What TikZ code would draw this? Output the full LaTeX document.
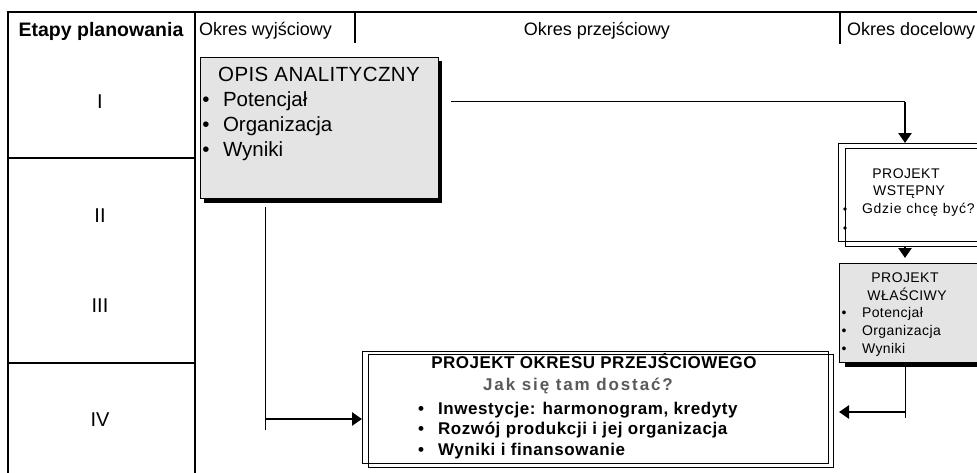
\documentclass[tikz,border=0pt]{standalone}
\usepackage{fontspec}
\setmainfont{Liberation Sans}
\usetikzlibrary{arrows.meta,fit}
\definecolor{boxgray}{HTML}{E4E4E4}
\definecolor{txtgray}{HTML}{5A5A5A}
\begin{document}
\begin{tikzpicture}[x=1pt,y=-1pt,
  frameline/.style={line width=1.6pt},
  gbox/.style={draw=black,line width=0.9pt,fill=boxgray,inner sep=0pt,outer sep=0pt},
  wbox/.style={draw=black,line width=0.9pt,inner sep=0pt,outer sep=0pt},
  shad/.style={fill=black,inner sep=0pt,outer sep=0pt},
  thinc/.style={line width=1pt},
  thickc/.style={line width=2.6pt,-{Triangle[length=10pt,width=13pt]}},
  txt/.style={inner sep=0pt,outer sep=0pt},
  hdr/.style={txt,font=\fontsize{18}{20}\selectfont},
  roman/.style={txt,font=\fontsize{20}{22}\selectfont},
  bigt/.style={txt,font=\fontsize{20.5}{23}\selectfont},
  smt/.style={txt,font=\fontsize{14}{16}\selectfont\addfontfeature{LetterSpace=3}},
  okt/.style={txt,font=\fontsize{17}{19}\selectfont\bfseries\addfontfeature{LetterSpace=3.5}},
  dot/.style={circle,fill=black,inner sep=0pt,minimum size=3.6pt}
]
\useasboundingbox (0,0) rectangle (977,472);
\fill[white] (0,0) rectangle (977,472);

% table frame
\coordinate (tl) at (8,12);
\coordinate (tr) at (990,12);
\coordinate (bl) at (8,480);
\coordinate (c1t) at (195,12);
\coordinate (c1b) at (195,480);
\draw[frameline] (tr) -- (tl) -- (bl);
\draw[frameline] (c1t) -- (c1b);
\draw[frameline] (8,158) -- (195,158);
\draw[frameline] (8,363) -- (195,363);
\draw[line width=1.2pt] (355,12) -- (355,43);
\draw[line width=1.6pt] (840,12) -- (840,44);

% header texts
\node[txt,font=\fontsize{19.5}{22}\selectfont\bfseries,anchor=base] (hetap) at (101,36) {Etapy planowania};
\node[hdr,anchor=base west] (hwyj) at (199,35) {Okres wyjściowy};
\node[hdr,anchor=base] (hprz) at (597,35) {Okres przejściowy};
\node[hdr,anchor=base west] (hdoc) at (847,35) {Okres docelowy};

% roman numerals
\node[roman] (r1) at (100,102) {I};
\node[roman] (r2) at (100,216) {II};
\node[roman] (r3) at (100,306) {III};
\node[roman] (r4) at (100,420) {IV};

% OPIS ANALITYCZNY
\node[shad,fit={(204,61) (442,203)}] (opiss) {};
\node[gbox,fit={(200,57) (438,198)}] (opis) {};
\node[bigt,anchor=base,font=\fontsize{20.5}{23}\selectfont\addfontfeature{LetterSpace=2}] (opt) at (319,81) {OPIS ANALITYCZNY};
\node[bigt,anchor=base] (ob1) at (206,106) {•};
\node[bigt,anchor=base west] (ot1) at (223,106) {Potencjał};
\node[bigt,anchor=base] (ob2) at (206,131) {•};
\node[bigt,anchor=base west] (ot2) at (223,131) {Organizacja};
\node[bigt,anchor=base] (ob3) at (206,156) {•};
\node[bigt,anchor=base west] (ot3) at (223,156) {Wyniki};

% PROJEKT WSTEPNY (double frame)
\node[wbox,fit={(838,143) (995,241)}] (wsto) {};
\node[wbox,fit={(845,148) (1000,246)}] (wsti) {};
\node[smt,anchor=base] (wt1) at (906,178) {PROJEKT};
\node[smt,anchor=base] (wt2) at (909,195) {WSTĘPNY};
\node[smt,anchor=base west,font=\fontsize{14}{16}\selectfont\addfontfeature{LetterSpace=5.5}] (wt3) at (862,213) {Gdzie chcę być?};
\node[dot] (wd1) at (845,209) {};
\node[dot] (wd2) at (845,228) {};

% PROJEKT WLASCIWY
\node[shad,fit={(845,362) (1000,367)}] (wlas) {};
\node[gbox,fit={(839,263) (995,362)}] (wla) {};
\node[smt,anchor=base] (lt1) at (905,282) {PROJEKT};
\node[smt,anchor=base] (lt2) at (907,300) {WŁAŚCIWY};
\node[smt,anchor=base] (lb1) at (844,317) {•};
\node[smt,anchor=base west] (lt3) at (862,317) {Potencjał};
\node[smt,anchor=base] (lb2) at (844,335) {•};
\node[smt,anchor=base west] (lt4) at (862,335) {Organizacja};
\node[smt,anchor=base] (lb3) at (844,353) {•};
\node[smt,anchor=base west] (lt5) at (862,353) {Wyniki};

% PROJEKT OKRESU PRZEJSCIOWEGO (double frame)
\node[wbox,fill=white,fit={(362,351) (828,463)}] (okro) {};
\node[wbox,fit={(368,354) (833,467)}] (okri) {};
\node[okt,anchor=base,font=\fontsize{17}{19}\selectfont\bfseries\addfontfeature{LetterSpace=3}] (kt1) at (594,368) {PROJEKT OKRESU PRZEJŚCIOWEGO};
\node[okt,anchor=base,text=txtgray,font=\fontsize{17}{19}\selectfont\bfseries\addfontfeature{LetterSpace=11}] (kt2) at (578,390) {Jak się tam dostać?};
\node[okt,anchor=base] (kb1) at (421,414) {•};
\node[okt,anchor=base west] (kt3) at (438,414) {Inwestycje: harmonogram, kredyty};
\node[okt,anchor=base] (kb2) at (421,434.5) {•};
\node[okt,anchor=base west] (kt4) at (438,434.5) {Rozwój produkcji i jej organizacja};
\node[okt,anchor=base] (kb3) at (421,455) {•};
\node[okt,anchor=base west] (kt5) at (438,455) {Wyniki i finansowanie};

% connectors
\coordinate (k0) at (451,101);
\coordinate (k1) at (905,101);
\draw[thinc] (k0) -- (k1);
\draw[thickc] ([yshift=-1pt]k1) -- (wsto.north -| k1);
\draw[thickc,shorten >=5pt] (wsti.south -| k1) -- (wla.north -| k1);
\coordinate (k2) at (905,418);
\coordinate (k3) at (905,412);
\draw[thinc] (wlas.south -| k2) -- (k2);
\draw[thickc,shorten >=6pt] (k3) -- (okri.east |- k3);
\coordinate (k4) at (265,207);
\coordinate (k5) at (265,430);
\draw[thinc] (k4) -- (k5);
\coordinate (k6) at (265,419);
\draw[thickc] (k6) -- (okro.west |- k6);
\end{tikzpicture}
\end{document}
